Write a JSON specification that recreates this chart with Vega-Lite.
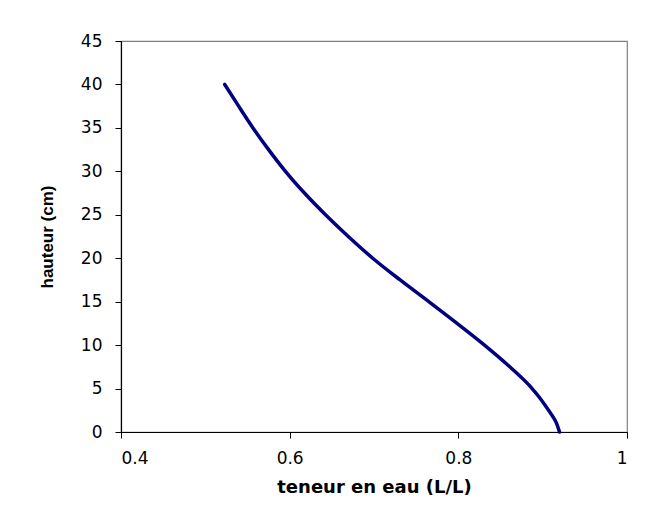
{
  "$schema": "https://vega.github.io/schema/vega-lite/v6.json",
  "width": 506,
  "height": 391,
  "autosize": "none",
  "padding": {"left": 121, "top": 41, "right": 32, "bottom": 75},
  "background": "white",
  "config": {
    "view": {"stroke": "#808080", "strokeWidth": 1.2},
    "axis": {
      "grid": false,
      "domainColor": "#000000",
      "domainWidth": 1.2,
      "tickColor": "#000000",
      "tickSize": 6,
      "labelFont": "DejaVu Sans",
      "labelFontSize": 17,
      "labelColor": "#000000",
      "titleFont": "DejaVu Sans",
      "titleFontWeight": "bold",
      "titleColor": "#000000"
    }
  },
  "data": {
    "values": [
      {"teneur": 0.523, "hauteur": 40},
      {"teneur": 0.5395, "hauteur": 37.5},
      {"teneur": 0.5565, "hauteur": 35},
      {"teneur": 0.575, "hauteur": 32.5},
      {"teneur": 0.595, "hauteur": 30},
      {"teneur": 0.6175, "hauteur": 27.5},
      {"teneur": 0.6425, "hauteur": 25},
      {"teneur": 0.6695, "hauteur": 22.5},
      {"teneur": 0.6985, "hauteur": 20},
      {"teneur": 0.731, "hauteur": 17.5},
      {"teneur": 0.765, "hauteur": 15},
      {"teneur": 0.7985, "hauteur": 12.5},
      {"teneur": 0.831, "hauteur": 10},
      {"teneur": 0.861, "hauteur": 7.5},
      {"teneur": 0.8875, "hauteur": 5},
      {"teneur": 0.896, "hauteur": 4},
      {"teneur": 0.9035, "hauteur": 3},
      {"teneur": 0.9105, "hauteur": 2},
      {"teneur": 0.9165, "hauteur": 1},
      {"teneur": 0.920, "hauteur": 0}
    ]
  },
  "mark": {"type": "line", "color": "#000080", "strokeWidth": 3.5, "strokeCap": "round", "strokeJoin": "round", "interpolate": "monotone"},
  "encoding": {
    "x": {
      "field": "teneur",
      "type": "quantitative",
      "scale": {"domain": [0.4, 1], "nice": false, "zero": false},
      "axis": {
        "title": "teneur en eau (L/L)",
        "values": [0.4, 0.6, 0.8, 1],
        "format": "~g",
        "labelPadding": 12,
        "titleFontSize": 18,
        "titlePadding": 12
      }
    },
    "y": {
      "field": "hauteur",
      "type": "quantitative",
      "scale": {"domain": [0, 45], "nice": false},
      "axis": {
        "title": "hauteur (cm)",
        "values": [0, 5, 10, 15, 20, 25, 30, 35, 40, 45],
        "labelPadding": 13,
        "titleFontSize": 17,
        "titleFont": "Liberation Sans",
        "titlePadding": 24
      }
    },
    "order": {"field": "hauteur", "type": "quantitative", "sort": "descending"}
  }
}
